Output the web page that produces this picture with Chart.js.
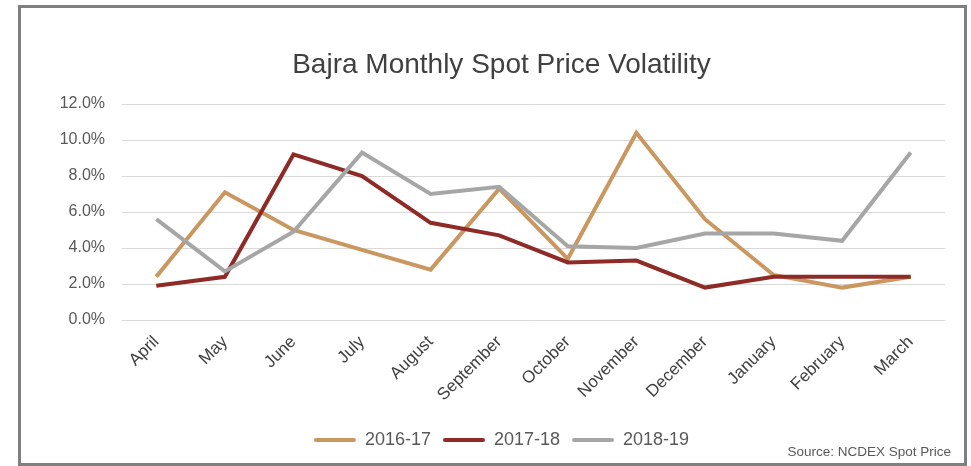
<!DOCTYPE html>
<html>
<head>
<meta charset="utf-8">
<script src="https://cdn.jsdelivr.net/npm/chart.js@4/dist/chart.umd.min.js"></script>
<style>
  html, body { margin: 0; padding: 0; background: #fff; }
  #wrap { position: relative; width: 971px; height: 466px; }
  #frame {
    position: absolute; left: 18px; top: 5px; width: 949px; height: 461px;
    box-sizing: border-box; border: 3px solid #7f7f7f; pointer-events: none;
  }
  #source {
    position: absolute; right: 20px; top: 444px;
    font: 13.5px "Liberation Sans", Arial, sans-serif; color: #595959;
  }
</style>
</head>
<body>
<div id="wrap">
  <canvas id="chart" width="971" height="466"></canvas>
  <div id="frame"></div>
  <div id="source">Source: NCDEX Spot Price</div>
</div>
<script>
// months of the crop year
const months = ['April', 'May', 'June', 'July', 'August', 'September',
  'October', 'November', 'December', 'January', 'February', 'March'];

// volatility in percent
const vol2016 = [2.4, 7.1, 5.0, 3.9, 2.8, 7.3, 3.4, 10.4, 5.6, 2.5, 1.8, 2.4];
const vol2017 = [1.9, 2.4, 9.2, 8.0, 5.4, 4.7, 3.2, 3.3, 1.8, 2.4, 2.4, 2.4];
const vol2018 = [5.6, 2.7, 4.9, 9.3, 7.0, 7.4, 4.1, 4.0, 4.8, 4.8, 4.4, 9.3];

const seriesNames = ['2016-17', '2017-18', '2018-19'];
const yTicks = [0, 2, 4, 6, 8, 10, 12];

function getColor(name) {
  if (name === '2016-17') return '#c9975f';
  if (name === '2017-18') return '#8e2b26';
  if (name === '2018-19') return '#a6a6a6';
}

const font = '"Liberation Sans", Arial, sans-serif';

const datasets = [vol2016, vol2017, vol2018].map((vals, i) => ({
  label: seriesNames[i],
  data: vals,
  borderColor: getColor(seriesNames[i]),
  backgroundColor: getColor(seriesNames[i]),
  borderWidth: 4,
  pointRadius: 0,
  tension: 0,
  order: 3 - i   // grey on top, then red, then tan
}));

new Chart(document.querySelector('#chart').getContext('2d'), {
  type: 'line',
  data: { labels: months, datasets: datasets },
  options: {
    responsive: false,
    animation: false,
    layout: { padding: { left: 58, right: 26, top: 0, bottom: 7 } },
    plugins: {
      tooltip: { enabled: false },
      title: {
        display: true,
        text: 'Bajra Monthly Spot Price Volatility',
        color: '#404040',
        font: { family: font, size: 28, weight: 'normal', lineHeight: 1.2 },
        padding: { top: 48, bottom: 22.4 }
      },
      legend: {
        position: 'bottom',
        labels: {
          color: '#595959',
          font: { family: font, size: 18 },
          boxWidth: 42,
          boxHeight: 4,
          padding: 12,
          useBorderRadius: true,
          borderRadius: 2,
          generateLabels: (chart) => Chart.defaults.plugins.legend.labels
            .generateLabels(chart)
            .map(l => ({ ...l, lineWidth: 0, fillStyle: l.strokeStyle })),
          sort: (a, b) => a.datasetIndex - b.datasetIndex
        }
      }
    },
    scales: {
      x: {
        offset: true,
        grid: { display: false, drawTicks: false },
        border: { display: false },
        ticks: {
          color: '#404040',
          font: { family: font, size: 17 },
          minRotation: 45,
          maxRotation: 45,
          padding: 12
        },
        afterFit: (s) => { s.height = 99; }
      },
      y: {
        min: 0,
        max: 12,
        afterBuildTicks: (s) => { s.ticks = yTicks.map(v => ({ value: v })); },
        grid: { color: '#d9d9d9', lineWidth: 1, drawTicks: false },
        border: { display: false },
        ticks: {
          color: '#595959',
          font: { family: font, size: 16 },
          padding: 17,
          callback: (v) => v.toFixed(1) + '%'
        },
        afterFit: (s) => { s.width = 64; }
      }
    }
  }
});
</script>
</body>
</html>
